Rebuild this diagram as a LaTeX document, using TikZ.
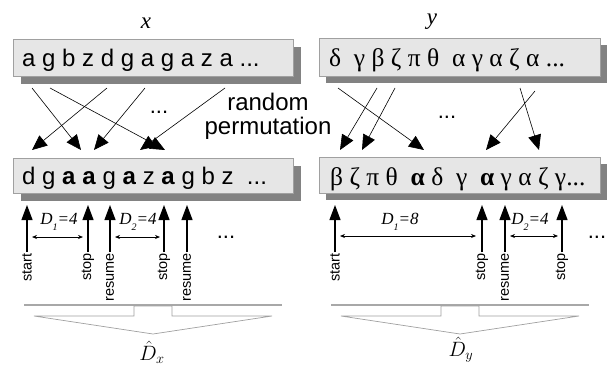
\documentclass[tikz,border=0pt]{standalone}
\usepackage{fontspec}
\setmainfont{Liberation Serif}
\newfontfamily\arial{Liberation Sans}
\usetikzlibrary{arrows.meta}
\definecolor{boxfill}{HTML}{E6E6E6}
\definecolor{boxline}{HTML}{A0A0A0}
\definecolor{shadowc}{HTML}{828282}
\definecolor{barc}{HTML}{A8A8A8}
\newcommand{\Dlab}[2]{\textit{D}\raisebox{-0.35em}{\fontsize{10}{10}\selectfont\textit{#1}}\textit{=#2}}
\begin{document}
\begin{tikzpicture}[x=1pt,y=-1pt,
  seq/.style={font=\arial\fontsize{24}{24}\selectfont, inner sep=0pt, anchor=base west},
  gseq/.style={font=\fontsize{25.5}{25.5}\selectfont, inner sep=0pt, anchor=base west},
  perm/.style={-{Triangle[length=15pt,width=13pt]}, line width=0.6pt},
  up/.style={-{Triangle[length=15pt,width=11pt]}, line width=1.2pt},
  dbl/.style={{Stealth[length=5pt,width=4pt]}-{Stealth[length=5pt,width=4pt]}, line width=0.7pt},
  lab/.style={font=\arial\fontsize{14.5}{14.5}\selectfont, rotate=90, anchor=east, inner sep=1pt},
  dl/.style={font=\fontsize{17}{17}\selectfont, inner sep=0pt},
  dots/.style={font=\arial\fontsize{22}{22}\selectfont, inner sep=0pt},
  var/.style={font=\itshape\fontsize{23}{23}\selectfont, inner sep=0pt},
  bar/.style={draw=barc, line width=2.5pt},
  outl/.style={draw=boxline, line width=0.7pt}
]
\useasboundingbox (0,0) rectangle (610,367);

% boxes with shadows
\fill[shadowc] (21,47) rectangle (301,84);
\filldraw[fill=boxfill, draw=boxline, line width=0.7pt] (13,39) rectangle (293,76);
\fill[shadowc] (326,45) rectangle (607,83);
\filldraw[fill=boxfill, draw=boxline, line width=0.7pt] (319,38) rectangle (600,76);
\fill[shadowc] (21,166) rectangle (301,201);
\filldraw[fill=boxfill, draw=boxline, line width=0.7pt] (13,158) rectangle (293,193);
\fill[shadowc] (326,164) rectangle (607,200);
\filldraw[fill=boxfill, draw=boxline, line width=0.7pt] (319,157) rectangle (600,193);

% titles
\node[var] (x) at (146,23) {x};
\node[var] (y) at (432,22) {y};

% sequences
\node[seq] (xs) at (22,66) {a g b z d g a g a z a ...};
\node[gseq] (ys) at (329,66) {δ\ \ γ β ζ π θ\ \ α γ α ζ α ...};
\node[seq] (xp) at (22,184) {d g \textbf{a} \textbf{a} g \textbf{a} z \textbf{a} g b z\ \ ...};
\node[gseq] (yp) at (330,185) {β ζ π θ\ \ \textbf{α} δ\ \ γ\ \ \textbf{α} γ α ζ γ...};

% permutation arrows, left
\coordinate (a1) at (32,88);  \coordinate (b1) at (81,150);
\coordinate (a2) at (50,88);  \coordinate (b2) at (165,150);
\coordinate (a3) at (107,88); \coordinate (b3) at (32,150);
\coordinate (a4) at (145,88); \coordinate (b4) at (94,150);
\coordinate (a5) at (225,88); \coordinate (b5) at (140,150);
\foreach \i in {1,...,5} \draw[perm] (a\i) -- (b\i);
% right
\coordinate (c1) at (338,88); \coordinate (d1) at (424,150);
\coordinate (c2) at (377,88); \coordinate (d2) at (340,150);
\coordinate (c3) at (395,88); \coordinate (d3) at (362,150);
\coordinate (c4) at (535,91); \coordinate (d4) at (486,150);
\coordinate (c5) at (520,88); \coordinate (d5) at (539,150);
\foreach \i in {1,...,5} \draw[perm] (c\i) -- (d\i);

\node[dots] (m1) at (159,112) {...};
\node[dots] (m2) at (447,117) {...};
\node[font=\arial\fontsize{24}{24}\selectfont, anchor=base, inner sep=0pt] (rnd) at (268,110) {random};
\node[font=\arial\fontsize{24}{24}\selectfont, anchor=base, inner sep=0pt] (prm) at (268,134) {permutation};

% left markers
\node[lab] (s1) at (27,252) {start};
\node[lab] (s2) at (88,252) {stop};
\node[lab] (s3) at (110,252) {resume};
\node[lab] (s4) at (164,252) {stop};
\node[lab] (s5) at (187,252) {resume};
\foreach \n/\xx in {s1/27,s2/88,s3/110,s4/164,s5/187} {
  \coordinate (t\n) at (\xx,205);
  \draw[up] (\n.east) -- (t\n);
}
% right markers
\node[lab] (r1) at (335,252) {start};
\node[lab] (r2) at (482,252) {stop};
\node[lab] (r3) at (505,252) {resume};
\node[lab] (r4) at (562,252) {stop};
\foreach \n/\xx in {r1/335,r2/482,r3/505,r4/562} {
  \coordinate (t\n) at (\xx,205);
  \draw[up] (\n.east) -- (t\n);
}

% durations
\coordinate (e1) at (32,237);  \coordinate (f1) at (83,237);
\coordinate (e2) at (115,237); \coordinate (f2) at (160,237);
\coordinate (e3) at (340,236); \coordinate (f3) at (476,236);
\coordinate (e4) at (510,236); \coordinate (f4) at (558,236);
\draw[dbl] (e1) -- (f1);
\draw[dbl] (e2) -- (f2);
\draw[dbl] (e3) -- (f3);
\draw[dbl] (e4) -- (f4);
\node[dl] (D1) at (59,222) {\Dlab{1}{4}};
\node[dl] (D2) at (138,222) {\Dlab{2}{4}};
\node[dl] (D3) at (400,222) {\Dlab{1}{8}};
\node[dl] (D4) at (530,222) {\Dlab{2}{4}};
\node[dots] (m3) at (226,237) {...};
\node[dots] (m4) at (597,237) {...};

% combining arrows
\draw[bar] (24,305) -- (282,305);
\draw[outl] (34,316) -- (134,316) -- (134,306) -- (172,306) -- (172,316) -- (272,316) -- (153,334) -- cycle;
\draw[bar] (331,305) -- (589,305);
\draw[outl] (341,316) -- (441,316) -- (441,306) -- (479,306) -- (479,316) -- (579,316) -- (460,334) -- cycle;
\node[font=\fontsize{20}{20}\selectfont, inner sep=0pt] (Dx) at (152,352) {$\hat{D}_x$};
\node[font=\fontsize{20}{20}\selectfont, inner sep=0pt] (Dy) at (461,350) {$\hat{D}_y$};
\end{tikzpicture}
\end{document}
